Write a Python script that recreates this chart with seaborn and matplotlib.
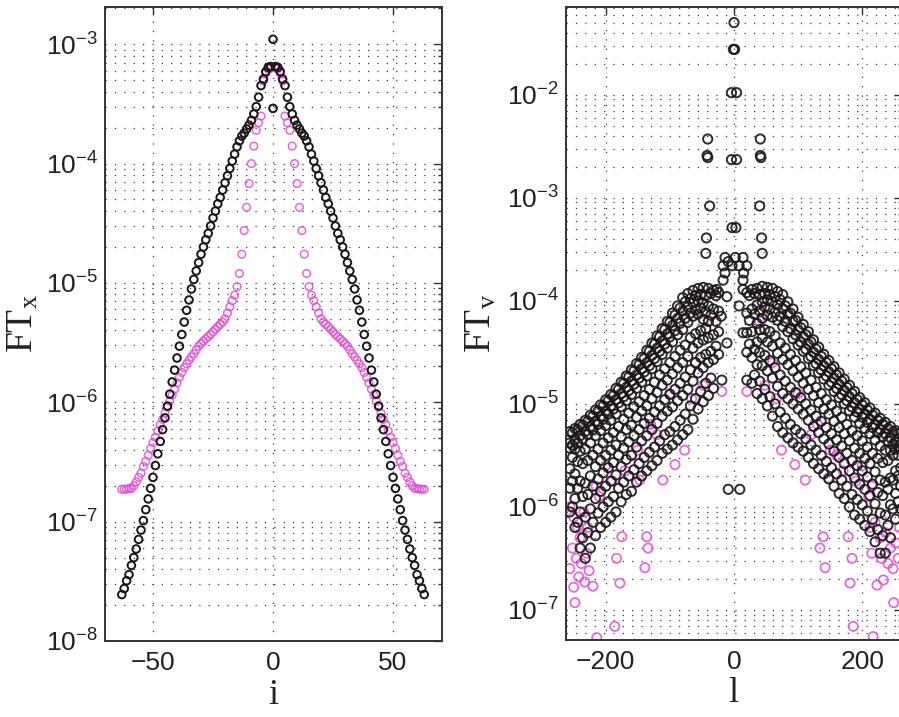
import numpy as np
import pandas as pd
import matplotlib
matplotlib.use("Agg")
import matplotlib.pyplot as plt
import seaborn as sns
from matplotlib.ticker import LogLocator, FixedLocator, NullFormatter, NullLocator

# ---------------- data: left panel (FT_x vs i) ----------------
i_values = list(range(-63, 64))

ft_x_black = [
    2.45e-8, 2.75e-8, 3.2e-8, 3.6e-8, 4.3e-8, 5.0e-8, 5.9e-8, 7.1e-8, 8.5e-8, 1.02e-7,
    1.26e-7, 1.55e-7, 1.9e-7, 2.35e-7, 2.95e-7, 3.7e-7, 4.7e-7, 5.9e-7, 7.4e-7, 9.3e-7,
    1.17e-6, 1.48e-6, 1.86e-6, 2.35e-6, 2.95e-6, 3.7e-6, 4.7e-6, 5.9e-6, 7.2e-6, 8.9e-6,
    1.07e-5, 1.26e-5, 1.48e-5, 1.74e-5, 2.0e-5, 2.3e-5, 2.6e-5, 3.0e-5, 3.5e-5, 4.0e-5,
    4.6e-5, 5.2e-5, 6.0e-5, 6.9e-5, 7.9e-5, 9.1e-5, 1.05e-4, 1.2e-4, 1.38e-4, 1.55e-4,
    1.7e-4, 1.8e-4, 1.95e-4, 2.1e-4, 2.3e-4, 2.6e-4, 3.0e-4, 3.6e-4, 4.5e-4, 5.1e-4,
    5.9e-4, 6.4e-4, 6.5e-4,
    1.1e-3,
    6.5e-4, 6.4e-4, 5.9e-4, 5.1e-4, 4.5e-4, 3.6e-4, 3.0e-4, 2.6e-4, 2.3e-4, 2.1e-4,
    1.95e-4, 1.8e-4, 1.7e-4, 1.55e-4, 1.38e-4, 1.2e-4, 1.05e-4, 9.1e-5, 7.9e-5, 6.9e-5,
    6.0e-5, 5.2e-5, 4.6e-5, 4.0e-5, 3.5e-5, 3.0e-5, 2.6e-5, 2.3e-5, 2.0e-5, 1.74e-5,
    1.48e-5, 1.26e-5, 1.07e-5, 8.9e-6, 7.2e-6, 5.9e-6, 4.7e-6, 3.7e-6, 2.95e-6, 2.35e-6,
    1.86e-6, 1.48e-6, 1.17e-6, 9.3e-7, 7.4e-7, 5.9e-7, 4.7e-7, 3.7e-7, 2.95e-7, 2.35e-7,
    1.9e-7, 1.55e-7, 1.26e-7, 1.02e-7, 8.5e-8, 7.1e-8, 5.9e-8, 5.0e-8, 4.3e-8, 3.6e-8,
    3.2e-8, 2.75e-8, 2.45e-8,
]
ft_x_black_extra_i = [0]
ft_x_black_extra = [2.9e-4]

ft_x_magenta = [
    1.87e-7, 1.87e-7, 1.87e-7, 1.9e-7, 1.9e-7, 2.0e-7, 2.15e-7, 2.35e-7, 2.55e-7, 2.9e-7,
    3.2e-7, 3.6e-7, 4.1e-7, 4.6e-7, 5.1e-7, 5.75e-7, 6.5e-7, 7.2e-7, 8.1e-7, 9.1e-7,
    1.02e-6, 1.15e-6, 1.29e-6, 1.45e-6, 1.62e-6, 1.78e-6, 1.95e-6, 2.1e-6, 2.25e-6, 2.4e-6,
    2.55e-6, 2.75e-6, 2.95e-6, 3.1e-6, 3.25e-6, 3.4e-6, 3.55e-6, 3.7e-6, 3.9e-6, 4.1e-6,
    4.3e-6, 4.5e-6, 4.7e-6, 5.0e-6, 5.6e-6, 6.3e-6, 7.1e-6, 7.9e-6, 9.3e-6, 1.2e-5,
    1.74e-5, 2.75e-5, 4.3e-5, 6.8e-5, 1.0e-4, 1.4e-4, 1.9e-4, 2.2e-4, 2.5e-4, 4.9e-4,
    5.7e-4, 6.2e-4, 6.3e-4,
    2.9e-4,
    6.3e-4, 6.2e-4, 5.7e-4, 4.9e-4, 2.5e-4, 2.2e-4, 1.9e-4, 1.4e-4, 1.0e-4, 6.8e-5,
    4.3e-5, 2.75e-5, 1.74e-5, 1.2e-5, 9.3e-6, 7.9e-6, 7.1e-6, 6.3e-6, 5.6e-6, 5.0e-6,
    4.7e-6, 4.5e-6, 4.3e-6, 4.1e-6, 3.9e-6, 3.7e-6, 3.55e-6, 3.4e-6, 3.25e-6, 3.1e-6,
    2.95e-6, 2.75e-6, 2.55e-6, 2.4e-6, 2.25e-6, 2.1e-6, 1.95e-6, 1.78e-6, 1.62e-6, 1.45e-6,
    1.29e-6, 1.15e-6, 1.02e-6, 9.1e-7, 8.1e-7, 7.2e-7, 6.5e-7, 5.75e-7, 5.1e-7, 4.6e-7,
    4.1e-7, 3.6e-7, 3.2e-7, 2.9e-7, 2.55e-7, 2.35e-7, 2.15e-7, 2.0e-7, 1.9e-7, 1.9e-7,
    1.87e-7, 1.87e-7, 1.87e-7,
]

# ---------------- data: right panel (FT_v vs l), values as log10 exponents ----------------
ftv_black_special_l = [0, -1, 1, -4, 4, -4, 4, -3, 3,
                       -41, -42, -41, -38, -43, -44, 41, 41, 42, 40, 43, 44,
                       -17, -14, -9, -3, 2, 8, 14, 20, -14, 15, -17, 14,
                       -19, 20, -9, 9,
                       -11, -11, 14, 14, -27, -20, 8]
ftv_black_special_exp = [-1.30, -1.56, -1.56, -1.98, -1.98, -2.63, -2.63, -3.29, -3.29,
                         -2.43, -2.59, -2.61, -3.08, -3.39, -3.54, -2.43, -2.59, -2.61, -3.08, -3.39, -3.54,
                         -3.66, -3.58, -3.62, -3.66, -3.58, -3.66, -3.58, -3.66, -3.73, -3.73, -3.80, -3.80,
                         -4.77, -4.77, -5.83, -5.83,
                         -3.96, -4.41, -3.89, -4.31, -3.89, -4.15, -4.05]

ftv_black_rows_neg = {
    -24: [-3.92, -4.10, -4.30, -4.52],
    -28: [-3.95, -4.20, -4.44],
    -32: [-3.90, -4.08, -4.33, -4.57, -4.85],
    -36: [-3.93, -4.14, -4.49, -4.75],
    -40: [-3.88, -4.05, -4.20, -4.36, -4.60, -4.92],
    -44: [-3.95, -4.11, -4.27, -4.52, -4.80],
    -48: [-3.87, -4.02, -4.18, -4.38, -4.65, -4.98],
    -52: [-3.94, -4.07, -4.29, -4.55, -4.88],
    -56: [-3.88, -4.00, -4.13, -4.41, -4.70, -5.05],
    -60: [-3.95, -4.09, -4.32, -4.60, -4.95],
    -64: [-3.90, -4.02, -4.15, -4.46, -4.78, -5.15],
    -68: [-3.98, -4.12, -4.36, -4.67, -5.02],
    -72: [-3.93, -4.06, -4.21, -4.54, -4.86, -5.25],
    -76: [-4.01, -4.17, -4.43, -4.74, -5.10],
    -80: [-3.97, -4.10, -4.28, -4.60, -4.92, -5.30],
    -84: [-4.07, -4.22, -4.48, -4.80, -5.16],
    -88: [-4.05, -4.17, -4.33, -4.65, -4.97, -5.35],
    -92: [-4.14, -4.29, -4.54, -4.86, -5.22],
    -96: [-4.12, -4.24, -4.40, -4.71, -5.03, -5.40],
    -100: [-4.21, -4.35, -4.60, -4.91, -5.27],
    -104: [-4.20, -4.32, -4.46, -4.77, -5.07, -5.44],
    -108: [-4.28, -4.42, -4.66, -4.96, -5.30],
    -112: [-4.27, -4.39, -4.52, -4.82, -5.12, -5.48],
    -116: [-4.35, -4.49, -4.72, -5.02, -5.36],
    -120: [-4.34, -4.46, -4.59, -4.89, -5.19, -5.55],
    -124: [-4.42, -4.56, -4.79, -5.08, -5.42],
    -128: [-4.41, -4.53, -4.66, -4.95, -5.25, -5.60],
    -132: [-4.49, -4.63, -4.86, -5.14, -5.47],
    -136: [-4.48, -4.60, -4.73, -5.02, -5.31, -5.65],
    -140: [-4.56, -4.69, -4.92, -5.19, -5.52],
    -144: [-4.55, -4.66, -4.79, -5.07, -5.36, -5.70],
    -148: [-4.62, -4.75, -4.98, -5.25, -5.58],
    -152: [-4.61, -4.72, -4.85, -5.13, -5.42, -5.76],
    -156: [-4.68, -4.81, -5.03, -5.31, -5.64],
    -160: [-4.67, -4.78, -4.91, -5.21, -5.50, -5.85],
    -164: [-4.74, -4.87, -5.09, -5.37, -5.70],
    -168: [-4.73, -4.84, -4.97, -5.25, -5.54, -5.88],
    -172: [-4.80, -4.93, -5.15, -5.43, -5.76],
    -176: [-4.79, -4.90, -5.03, -5.32, -5.61, -5.95],
    -180: [-4.86, -4.99, -5.22, -5.50, -5.82],
    -184: [-4.85, -4.96, -5.10, -5.40, -5.69, -6.05],
    -188: [-4.92, -5.05, -5.28, -5.57, -5.90],
    -192: [-4.91, -5.02, -5.16, -5.45, -5.75, -6.10],
    -196: [-4.97, -5.10, -5.33, -5.62, -5.95],
    -200: [-4.96, -5.07, -5.21, -5.50, -5.80, -6.15],
    -204: [-5.02, -5.15, -5.38, -5.67, -6.00],
    -208: [-5.01, -5.12, -5.26, -5.55, -5.85, -6.20],
    -212: [-5.07, -5.20, -5.44, -5.73, -6.06],
    -216: [-5.06, -5.17, -5.31, -5.61, -5.92, -6.28],
    -220: [-5.12, -5.25, -5.50, -5.80, -6.15],
    -224: [-5.11, -5.22, -5.38, -5.70, -6.02, -6.40],
    -228: [-5.17, -5.30, -5.55, -5.88, -6.25],
    -232: [-5.16, -5.27, -5.44, -5.77, -6.10, -6.50],
    -236: [-5.21, -5.34, -5.58, -5.90, -6.30],
    -240: [-5.20, -5.31, -5.46, -5.75, -6.05, -6.40],
    -244: [-5.25, -5.38, -5.56, -5.82, -6.15],
    -248: [-5.24, -5.35, -5.44, -5.68, -5.92, -6.20],
    -252: [-5.28, -5.40, -5.52, -5.75, -6.00],
    -256: [-5.27, -5.38, -5.43, -5.63, -5.82, -6.05],
}

ftv_black_rows_pos = {
    20: [-3.92, -4.12, -4.31, -4.50],
    24: [-3.95, -4.19, -4.42],
    28: [-3.89, -4.08, -4.30, -4.55, -4.80],
    32: [-3.93, -4.13, -4.47, -4.72],
    36: [-3.88, -4.04, -4.22, -4.40, -4.62, -4.90],
    40: [-3.94, -4.10, -4.28, -4.50, -4.78],
    44: [-3.86, -4.01, -4.17, -4.36, -4.63, -4.95],
    48: [-3.93, -4.06, -4.28, -4.53, -4.86],
    52: [-3.87, -3.99, -4.14, -4.40, -4.68, -5.02],
    56: [-3.94, -4.08, -4.30, -4.58, -4.93],
    60: [-3.88, -4.01, -4.16, -4.44, -4.75, -5.12],
    64: [-3.96, -4.11, -4.34, -4.65, -5.00],
    68: [-3.91, -4.04, -4.19, -4.51, -4.83, -5.22],
    72: [-3.99, -4.15, -4.41, -4.72, -5.08],
    76: [-3.94, -4.08, -4.25, -4.57, -4.90, -5.28],
    80: [-4.05, -4.20, -4.46, -4.78, -5.14],
    84: [-4.01, -4.13, -4.30, -4.62, -4.95, -5.33],
    88: [-4.12, -4.27, -4.52, -4.84, -5.20],
    92: [-4.08, -4.20, -4.37, -4.68, -5.00, -5.38],
    96: [-4.19, -4.33, -4.58, -4.89, -5.25],
    100: [-4.16, -4.28, -4.43, -4.74, -5.05, -5.42],
    104: [-4.26, -4.40, -4.64, -4.94, -5.29],
    108: [-4.23, -4.35, -4.49, -4.80, -5.10, -5.46],
    112: [-4.33, -4.47, -4.70, -5.00, -5.34],
    116: [-4.30, -4.42, -4.56, -4.86, -5.16, -5.52],
    120: [-4.40, -4.54, -4.77, -5.06, -5.40],
    124: [-4.38, -4.50, -4.63, -4.92, -5.22, -5.58],
    128: [-4.47, -4.61, -4.84, -5.12, -5.45],
    132: [-4.45, -4.57, -4.70, -4.99, -5.28, -5.63],
    136: [-4.54, -4.67, -4.90, -5.17, -5.50],
    140: [-4.52, -4.63, -4.76, -5.05, -5.34, -5.68],
    144: [-4.60, -4.73, -4.96, -5.23, -5.56],
    148: [-4.58, -4.69, -4.82, -5.10, -5.39, -5.73],
    152: [-4.66, -4.79, -5.01, -5.29, -5.62],
    156: [-4.64, -4.75, -4.88, -5.17, -5.46, -5.80],
    160: [-4.72, -4.85, -5.07, -5.35, -5.68],
    164: [-4.70, -4.81, -4.94, -5.23, -5.52, -5.87],
    168: [-4.78, -4.91, -5.13, -5.41, -5.74],
    172: [-4.76, -4.87, -5.00, -5.29, -5.58, -5.92],
    176: [-4.84, -4.97, -5.20, -5.48, -5.80],
    180: [-4.82, -4.93, -5.07, -5.36, -5.65, -6.00],
    184: [-4.90, -5.03, -5.26, -5.55, -5.88],
    188: [-4.88, -4.99, -5.13, -5.43, -5.72, -6.08],
    192: [-4.96, -5.08, -5.31, -5.60, -5.93],
    196: [-4.94, -5.05, -5.19, -5.48, -5.78, -6.12],
    200: [-5.01, -5.13, -5.36, -5.65, -5.98],
    204: [-4.99, -5.10, -5.24, -5.53, -5.83, -6.18],
    208: [-5.06, -5.18, -5.42, -5.71, -6.04],
    212: [-5.04, -5.15, -5.29, -5.58, -5.89, -6.24],
    216: [-5.11, -5.23, -5.48, -5.78, -6.12],
    220: [-5.09, -5.20, -5.35, -5.66, -5.97, -6.34],
    224: [-5.16, -5.28, -5.53, -5.86, -6.22],
    228: [-5.14, -5.25, -5.41, -5.74, -6.06, -6.45],
    232: [-5.20, -5.32, -5.57, -5.89, -6.28],
    236: [-5.18, -5.29, -5.45, -5.76, -6.08, -6.45],
    240: [-5.24, -5.36, -5.55, -5.83, -6.18],
    244: [-5.22, -5.33, -5.45, -5.72, -5.98, -6.30],
    248: [-5.27, -5.39, -5.50, -5.74, -6.02],
    252: [-5.26, -5.37, -5.44, -5.65, -5.87, -6.12],
    256: [-5.29, -5.41, -5.50, -5.70, -5.95],
    260: [-5.28, -5.39, -5.43, -5.62, -5.80, -6.02],
}

ftv_magenta_l = [
    -48, -19, -77, -92, -111, -147, -175, -136, -134, -183, -139, -220, -233, -178, -248, -186, -214,
    -256, -250, -244, -240, -252, -246, -238, -256, -230, -226, -242, -250, -234, -228,
    -40, -60, -100, -130, -160, -190, -210, -66, -120, -150, -200, -170, -215,
    20, 48, 74, 95, 111, 147, 139, 134, 178, 184, 142, 181, 223, 233, 249, 186, 217,
    212, 220, 228, 236, 244, 252, 240, 248, 256, 230, 215, 258,
    40, 60, 100, 130, 160, 190, 210, 66, 120, 150, 200, 170, 215,
]
ftv_magenta_exp = [
    -4.82, -4.88, -5.45, -5.59, -5.74, -5.74, -6.29, -6.29, -6.40, -6.50, -6.59, -6.77, -6.73, -6.74, -6.93, -7.16, -7.27,
    -6.00, -6.10, -6.20, -6.30, -6.40, -6.50, -6.55, -6.60, -6.45, -6.62, -6.68, -6.78, -6.05, -6.20,
    -4.20, -4.60, -4.90, -5.20, -5.50, -5.75, -5.90, -4.95, -5.30, -5.45, -5.60, -5.65, -5.80,
    -4.88, -4.82, -5.45, -5.59, -5.74, -5.72, -6.29, -6.40, -6.29, -6.50, -6.59, -6.74, -6.76, -6.71, -6.93, -7.16, -7.26,
    -6.20, -6.15, -6.30, -6.25, -6.40, -6.35, -6.55, -6.60, -6.50, -6.50, -6.45, -6.20,
    -4.20, -4.60, -4.90, -5.20, -5.50, -5.75, -5.90, -4.95, -5.30, -5.45, -5.60, -5.65, -5.80,
]

BLACK = "#1c1619"
MAGENTA = "#e04fd4"

# ---------------- build tables ----------------
df_x_black = pd.DataFrame({"i": i_values + ft_x_black_extra_i, "FT": ft_x_black + ft_x_black_extra})
df_x_mag = pd.DataFrame({"i": i_values, "FT": ft_x_magenta})

bl, bv = [], []
for l, e in zip(ftv_black_special_l, ftv_black_special_exp):
    bl.append(l); bv.append(10.0 ** e)
for rows in (ftv_black_rows_neg, ftv_black_rows_pos):
    for l, exps in rows.items():
        for e in exps:
            bl.append(l); bv.append(10.0 ** e)
df_v_black = pd.DataFrame({"l": bl, "FT": bv})
df_v_mag = pd.DataFrame({"l": ftv_magenta_l, "FT": [10.0 ** e for e in ftv_magenta_exp]})

# ---------------- style ----------------
sns.set_theme(style="white")
plt.rcParams["font.family"] = ["Liberation Sans", "DejaVu Sans"]
plt.rcParams["mathtext.fontset"] = "custom"
plt.rcParams["mathtext.rm"] = "Liberation Serif"
plt.rcParams["mathtext.it"] = "Liberation Serif:italic"
plt.rcParams["axes.unicode_minus"] = True

fig = plt.figure(figsize=(8.99, 7.17), dpi=100)
fig.patch.set_facecolor("white")
ax1 = fig.add_axes([105 / 899, 1 - 641 / 717, 337 / 899, 634 / 717])
ax2 = fig.add_axes([566 / 899, 1 - 640 / 717, 336 / 899, 633 / 717])

grid_kw = dict(color="#3a3a3a", linewidth=0.9, linestyle=(0, (1, 6.5)))

def style_axis(ax, xticks, ylim, xlim):
    ax.set_yscale("log")
    ax.set_xlim(*xlim)
    ax.set_ylim(*ylim)
    ax.set_facecolor("white")
    ax.set_axisbelow(True)
    ax.xaxis.set_major_locator(FixedLocator(xticks))
    ax.xaxis.set_minor_locator(NullLocator())
    ax.yaxis.set_major_locator(LogLocator(base=10, numticks=20))
    ax.yaxis.set_minor_locator(LogLocator(base=10, subs=np.arange(2, 10), numticks=20))
    ax.yaxis.set_minor_formatter(NullFormatter())
    ax.grid(True, which="major", axis="both", **grid_kw)
    ax.grid(True, which="minor", axis="y", **grid_kw)
    ax.tick_params(which="both", direction="in", top=True, right=True,
                   color="#333333", width=1.0, labelsize=19, labelcolor="#222222")
    ax.tick_params(which="major", length=6)
    ax.tick_params(which="minor", length=3)
    ax.tick_params(axis="x", pad=7)
    ax.tick_params(axis="y", pad=5)
    for sp in ax.spines.values():
        sp.set_color("#333333")
        sp.set_linewidth(1.4)
        sp.set_visible(True)

# left panel
sns.scatterplot(data=df_x_mag, x="i", y="FT", ax=ax1, color=MAGENTA, facecolor="none",
                edgecolor=MAGENTA, s=30, linewidth=1.1, legend=False, alpha=0.85)
sns.scatterplot(data=df_x_black, x="i", y="FT", ax=ax1, color=BLACK, facecolor="none",
                edgecolor=BLACK, s=30, linewidth=1.4, legend=False)
style_axis(ax1, [-50, 0, 50], (1e-8, 2.05e-3), (-70, 70.4))
ax1.set_xlabel("$\\mathrm{i}$", fontsize=26, color="#222222")
ax1.set_ylabel("$\\mathrm{FT}_{\\mathrm{x}}$", fontsize=27, color="#222222")
ax1.xaxis.set_label_coords(0.5, -0.056)
ax1.yaxis.set_label_coords(-0.19, 0.5)

# right panel
sns.scatterplot(data=df_v_mag, x="l", y="FT", ax=ax2, color=MAGENTA, facecolor="none",
                edgecolor=MAGENTA, s=44, linewidth=1.3, legend=False, alpha=0.85)
sns.scatterplot(data=df_v_black, x="l", y="FT", ax=ax2, color=BLACK, facecolor="none",
                edgecolor=BLACK, s=44, linewidth=1.4, legend=False, alpha=0.9)
style_axis(ax2, [-200, 0, 200], (5.1e-8, 7.1e-2), (-262, 262))
ax2.set_xlabel("$\\mathrm{l}$", fontsize=26, color="#222222")
ax2.set_ylabel("$\\mathrm{FT}_{\\mathrm{v}}$", fontsize=27, color="#222222")
ax2.xaxis.set_label_coords(0.5, -0.056)
ax2.yaxis.set_label_coords(-0.20, 0.5)

fig.savefig("out.png", dpi=100, facecolor="white")
